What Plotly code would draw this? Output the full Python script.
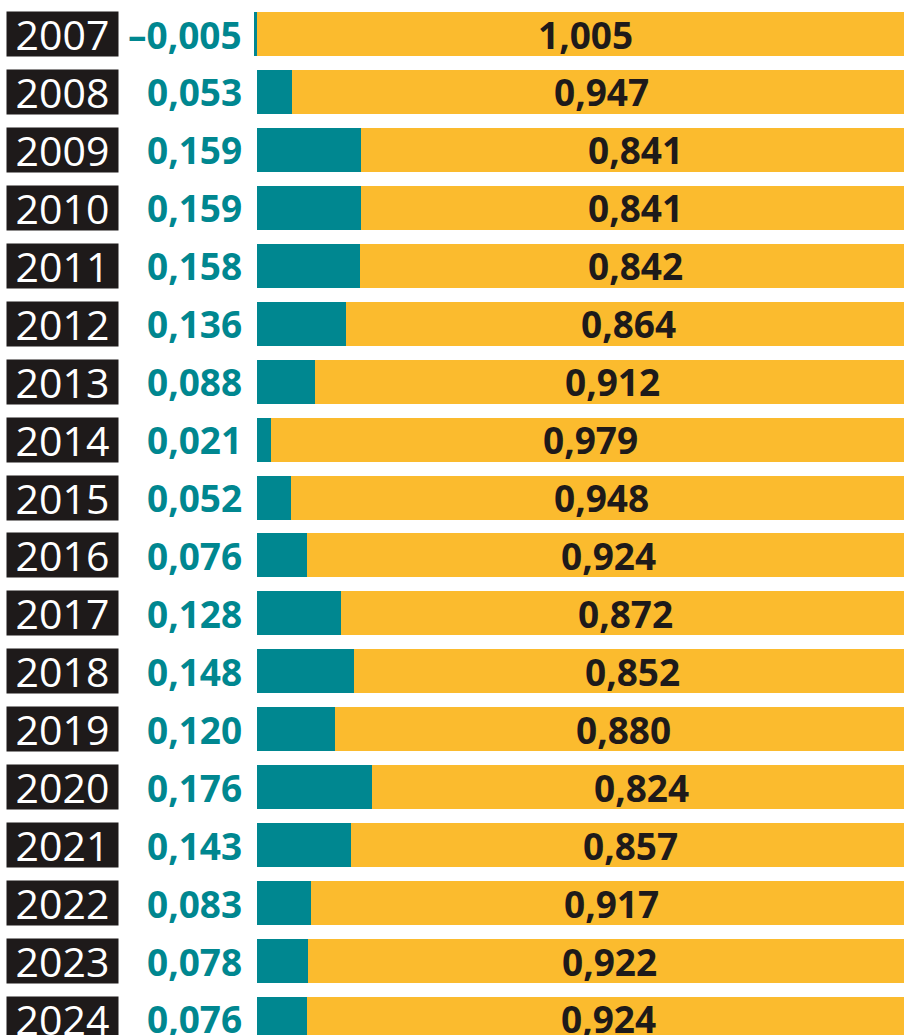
import plotly.graph_objects as go

years = [str(y) for y in range(2007, 2025)]
teal_values = [-0.005, 0.053, 0.159, 0.159, 0.158, 0.136, 0.088, 0.021, 0.052,
               0.076, 0.128, 0.148, 0.120, 0.176, 0.143, 0.083, 0.078, 0.076]
yellow_values = [1.005, 0.947, 0.841, 0.841, 0.842, 0.864, 0.912, 0.979, 0.948,
                 0.924, 0.872, 0.852, 0.880, 0.824, 0.857, 0.917, 0.922, 0.924]

TEAL = "#008790"
YELLOW = "#FBBB2E"
DARK = "#1E1A1A"

W, H = 904, 1035
X0_PX = 257.0      # pixel of value 0
PX_PER_UNIT = 654.0
ROW0_PX = 34.0
ROW_PX = 57.94

idx = list(range(len(years)))

def fmt(v):
    s = f"{abs(v):.3f}".replace(".", ",")
    return ("\u2013" + s) if v < 0 else s

fig = go.Figure()
fig.add_trace(go.Bar(y=idx, x=teal_values, orientation="h", marker=dict(color=TEAL, line=dict(width=0)),
                     width=0.76, hoverinfo="skip"))
fig.add_trace(go.Bar(y=idx, x=yellow_values, orientation="h", marker=dict(color=YELLOW, line=dict(width=0)),
                     width=0.76, hoverinfo="skip"))

annotations = []
for i, (yr, tv, yv) in enumerate(zip(years, teal_values, yellow_values)):
    # year box
    annotations.append(dict(x=62.5 / W, xref="paper", y=i, yref="y", text=yr, showarrow=False,
                            xanchor="center", yanchor="middle", width=111, height=44,
                            bgcolor=DARK, borderpad=0,
                            font=dict(family="Open Sans", size=41, color="white")))
    # teal value label
    annotations.append(dict(x=244 / W, xref="paper", y=i, yref="y", text=f"<b>{fmt(tv)}</b>",
                            showarrow=False, xanchor="right", yanchor="middle",
                            font=dict(family="Open Sans", size=37, color=TEAL)))
    # yellow value label centred in yellow segment
    seg_start = tv if tv > 0 else 0
    annotations.append(dict(x=seg_start + yv / 2, xref="x", y=i, yref="y",
                            text=f"<b>{fmt(yv)}</b>", showarrow=False,
                            xanchor="center", yanchor="middle",
                            font=dict(family="Open Sans", size=37, color=DARK)))

fig.update_layout(
    width=W, height=H,
    margin=dict(l=0, r=0, t=0, b=0),
    barmode="relative",
    bargap=0,
    showlegend=False,
    plot_bgcolor="white", paper_bgcolor="white",
    annotations=annotations,
    xaxis=dict(range=[-X0_PX / PX_PER_UNIT, (W - X0_PX) / PX_PER_UNIT], visible=False, fixedrange=True),
    yaxis=dict(range=[(len(years) - 1) + (H - ROW0_PX - ROW_PX * (len(years) - 1)) / ROW_PX,
                      -ROW0_PX / ROW_PX], visible=False, fixedrange=True),
)

fig.write_html(
    "out.html",
    config={"displayModeBar": False},
    post_script="document.body.style.margin='0';document.documentElement.style.overflow='hidden';",
)
